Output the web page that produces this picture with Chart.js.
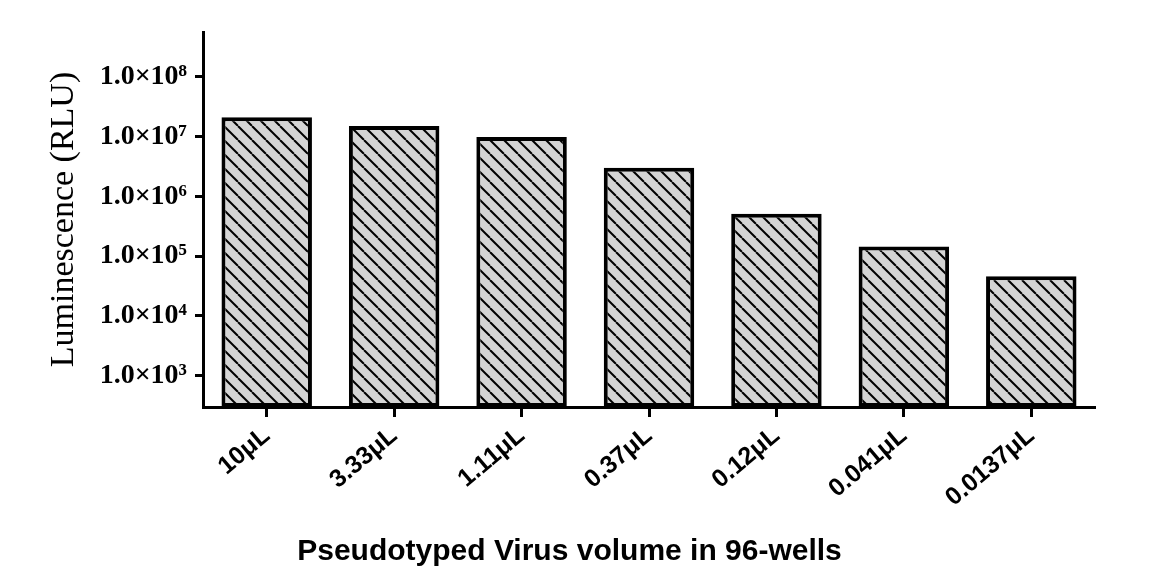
<!DOCTYPE html>
<html>
<head>
<meta charset="utf-8">
<script src="https://cdn.jsdelivr.net/npm/chart.js@4/dist/chart.umd.min.js"></script>
<style>
  html, body { margin: 0; padding: 0; background: #fff; }
  #wrap { width: 1162px; height: 585px; }
</style>
</head>
<body>
<div id="wrap"><canvas id="chart"></canvas></div>
<script>
const volumes = ["10μL", "3.33μL", "1.11μL", "0.37μL", "0.12μL", "0.041μL", "0.0137μL"];
const luminescence = [2.1e7, 1.5e7, 9.8e6, 3.0e6, 5.1e5, 1.45e5, 4.6e4];
const yTicks = [1e3, 1e4, 1e5, 1e6, 1e7, 1e8];
const supers = ["⁰", "¹", "²", "³", "⁴", "⁵", "⁶", "⁷", "⁸", "⁹"];

function hatch() {
  const s = 14;
  const c = document.createElement("canvas");
  c.width = s;
  c.height = s;
  const g = c.getContext("2d");
  g.fillStyle = "#d4d4d4";
  g.fillRect(0, 0, s, s);
  g.strokeStyle = "#000";
  g.lineWidth = 2;
  for (const o of [-s, 0, s]) {
    g.beginPath();
    g.moveTo(o, 0);
    g.lineTo(o + s, s);
    g.stroke();
  }
  return g.createPattern(c, "repeat");
}

const ctx = document.getElementById("chart").getContext("2d");

new Chart(ctx, {
  type: "bar",
  data: {
    labels: volumes,
    datasets: [
      {
        data: luminescence,
        backgroundColor: hatch(),
        borderColor: "#000",
        borderWidth: 4,
        borderSkipped: false,
        barPercentage: 0.71,
        categoryPercentage: 1,
      },
    ],
  },
  options: {
    responsive: true,
    maintainAspectRatio: false,
    animation: false,
    layout: { padding: { left: 44, right: 67, top: 32, bottom: 15 } },
    plugins: {
      legend: { display: false },
      tooltip: { enabled: false },
      title: {
        display: true,
        position: "bottom",
        text: "Pseudotyped Virus volume in 96-wells",
        color: "#000",
        padding: 0,
        font: { family: "Liberation Sans", weight: "bold", size: 30, lineHeight: 1.2 },
      },
    },
    scales: {
      x: {
        afterFit: (scale) => { scale.height = 127; },
        grid: { offset: false, drawOnChartArea: false, tickLength: 10, tickWidth: 3, tickColor: "#000" },
        border: { color: "#000", width: 3 },
        ticks: {
          autoSkip: false,
          minRotation: 40,
          maxRotation: 40,
          color: "#000",
          padding: 4,
          font: { family: "Liberation Sans", weight: "bold", size: 25 },
        },
      },
      y: {
        type: "logarithmic",
        min: 300,
        max: 5.6e8,
        afterFit: (scale) => { scale.width = 159; },
        afterBuildTicks: (scale) => {
          scale.ticks = yTicks.map((v) => ({ value: v }));
        },
        grid: { drawOnChartArea: false, tickLength: 8, tickWidth: 3, tickColor: "#000" },
        border: { color: "#000", width: 3 },
        ticks: {
          color: "#000",
          padding: 8,
          font: { family: "Liberation Serif", weight: "bold", size: 28 },
          callback: (v) => "1.0×10" + supers[Math.round(Math.log10(v))],
        },
        title: {
          display: true,
          text: "Luminescence (RLU)",
          color: "#000",
          padding: 0,
          font: { family: "Liberation Serif", size: 34 },
        },
      },
    },
  },
});
</script>
</body>
</html>
